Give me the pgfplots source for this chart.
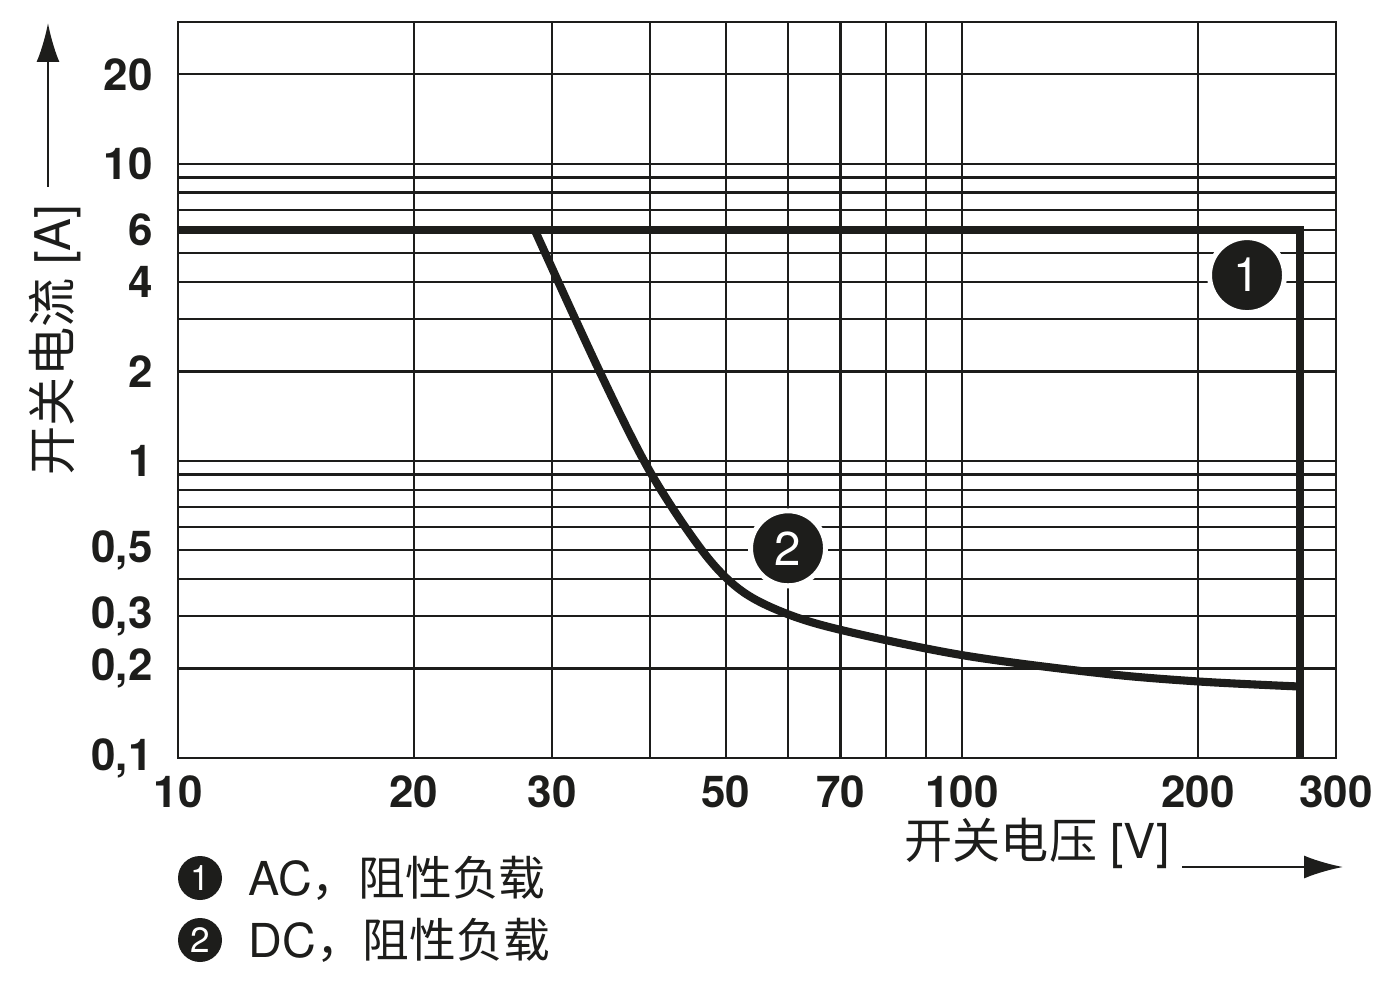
\documentclass[border=0pt]{standalone}
\usepackage{fontspec}
\setmainfont{TeX Gyre Heros}
\newfontfamily\cjk{Noto Sans CJK SC}
\usepackage{pgfplots}
\usepackage{pgfplotstable}
\pgfplotsset{compat=1.18}
\usetikzlibrary{arrows.meta}
\definecolor{ink}{RGB}{29,29,27}

\pgfplotstableread{
x y
10 6
270 6
270 0.1
}\acdata

\pgfplotstableread{
x y
28.5 6
34.5 2.0
40 0.92
46.6 0.50
52 0.37
59 0.31
70 0.27
100 0.222
150 0.193
200 0.181
270 0.174
}\dcdata

\begin{document}
\begin{tikzpicture}
\useasboundingbox (-1.78,-2.26) rectangle (12.22,7.58);
\begin{axis}[
  at={(0,0)}, anchor=south west,
  scale only axis, width=11.58cm, height=7.36cm,
  xmode=log, ymode=log,
  xmin=10, xmax=300, ymin=0.1, ymax=30,
  xtick={10,20,30,50,70,100,200,300},
  xticklabels={10,20,30,50,70,100,200,300},
  minor xtick={40,60,80,90},
  ytick={0.1,0.2,0.3,0.5,1,2,4,6,10,20},
  yticklabels={{0,1},{0,2},{0,3},{0,5},1,2,4,6,10,20},
  minor ytick={0.4,0.6,0.7,0.8,0.9,3,5,7,8,9},
  grid=both,
  major grid style={ink, line width=0.65pt},
  minor grid style={ink, line width=0.65pt},
  axis line style={ink, line width=0.65pt},
  major tick length=0pt, minor tick length=0pt,
  ticklabel style={font=\fontsize{12.5}{15}\selectfont\bfseries, text=ink},
  yticklabel style={anchor=east, xshift=-0.13cm},
  xticklabel style={anchor=north, yshift=-0.05cm},
  clip=false,
]
\addplot[ink, line width=2.3pt, line join=miter] table {\acdata};
\addplot[ink, line width=2.3pt, smooth, tension=0.55] table {\dcdata};
\node[circle, fill=ink, draw=white, line width=0.5mm, minimum size=0.75cm, inner sep=0pt,
      text=white, font=\fontsize{13.5}{16}\selectfont] at (axis cs:231,4.22) {1};
\node[circle, fill=ink, draw=white, line width=0.5mm, minimum size=0.75cm, inner sep=0pt,
      text=white, font=\fontsize{13.5}{16}\selectfont] at (axis cs:60,0.508) {2};
\end{axis}
% y axis label and arrow
\node[rotate=90, text=ink, font=\fontsize{14}{16}\selectfont] at (-1.23,4.18) {{\cjk 开关电流} [A]};
\draw[ink, line width=0.7pt, -{Latex[length=3.9mm,width=2.3mm]}] (-1.30,5.71) -- (-1.30,7.35);
% x axis label and arrow
\node[text=ink, font=\fontsize{13.7}{16}\selectfont] at (8.59,-0.85) {{\cjk 开关电压} [V]};
\draw[ink, line width=0.7pt, -{Latex[length=3.9mm,width=2.3mm]}] (10.04,-1.09) -- (11.65,-1.09);
% legend
\node[circle, fill=ink, minimum size=0.44cm, inner sep=0pt, text=white,
      font=\fontsize{10}{12}\selectfont] at (0.22,-1.20) {1};
\node[circle, fill=ink, minimum size=0.44cm, inner sep=0pt, text=white,
      font=\fontsize{10}{12}\selectfont] at (0.22,-1.82) {2};
\node[anchor=west, inner sep=0pt, text=ink, font=\fontsize{13.3}{16}\selectfont] at (0.70,-1.20) {AC{\cjk ，阻性负载}};
\node[anchor=west, inner sep=0pt, text=ink, font=\fontsize{13.3}{16}\selectfont] at (0.70,-1.82) {DC{\cjk ，阻性负载}};
\end{tikzpicture}
\end{document}
